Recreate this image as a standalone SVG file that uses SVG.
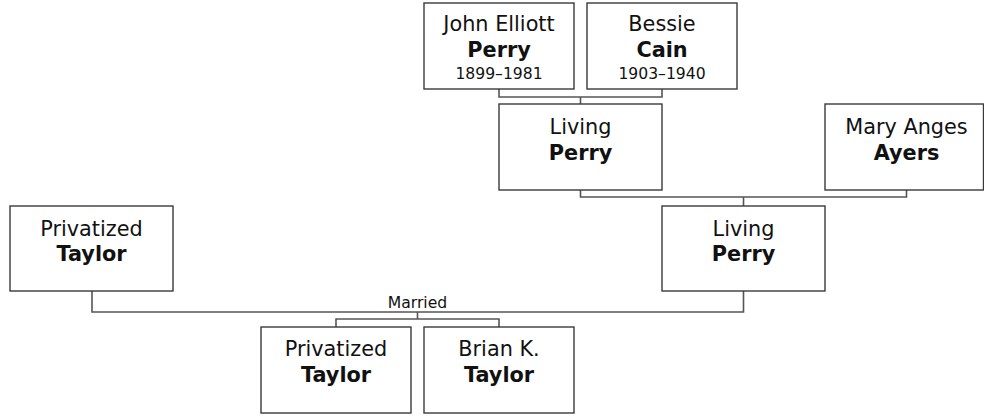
<svg xmlns="http://www.w3.org/2000/svg" width="984" height="416" viewBox="0 0 984 416">
<style>
.box{fill:#fff;stroke:#3a3a3a;stroke-width:1.4}
.t{font-family:"DejaVu Sans",Verdana,sans-serif;font-size:20.8px;fill:#111;text-anchor:middle}
.b{font-weight:bold}
.s{font-size:15.6px}
.c{fill:none;stroke:#555;stroke-width:1.6}
</style>
<rect width="984" height="416" fill="#fff"/>
<g id="connectors">
<path class="c" d="M499,89V97H662V89M580.5,97V104"/>
<path class="c" d="M580.5,190V197H906.5V190M743.5,197V206"/>
<path class="c" d="M743.5,291V312H92V291"/>
<path class="c" d="M417.5,312V319M336,327V319H499V327"/>
<text class="t s" x="417.5" y="308">Married</text>
</g>
<g id="john-elliott-perry">
<rect class="box" x="424" y="3" width="150" height="86"/>
<text class="t" x="499" y="31">John Elliott</text>
<text class="t b" x="499" y="56.5">Perry</text>
<text class="t s" x="499" y="79">1899–1981</text>
</g>
<g id="bessie-cain">
<rect class="box" x="587" y="3" width="150" height="86"/>
<text class="t" x="662" y="31">Bessie</text>
<text class="t b" x="662" y="56.5">Cain</text>
<text class="t s" x="662" y="79">1903–1940</text>
</g>
<g id="living-perry-1">
<rect class="box" x="499" y="104" width="163" height="86"/>
<text class="t" x="580.5" y="134">Living</text>
<text class="t b" x="580.5" y="159.5">Perry</text>
</g>
<g id="mary-anges-ayers">
<rect class="box" x="825" y="104" width="158.5" height="86"/>
<text class="t" x="906.5" y="134">Mary Anges</text>
<text class="t b" x="906.5" y="159.5">Ayers</text>
</g>
<g id="living-perry-2">
<rect class="box" x="662" y="206" width="163" height="85"/>
<text class="t" x="743.5" y="235.5">Living</text>
<text class="t b" x="743.5" y="261">Perry</text>
</g>
<g id="privatized-taylor-1">
<rect class="box" x="10" y="206" width="163" height="85"/>
<text class="t" x="91.5" y="235.5">Privatized</text>
<text class="t b" x="91.5" y="261">Taylor</text>
</g>
<g id="privatized-taylor-2">
<rect class="box" x="261" y="327" width="150" height="86"/>
<text class="t" x="336" y="356">Privatized</text>
<text class="t b" x="336" y="381.5">Taylor</text>
</g>
<g id="brian-k-taylor">
<rect class="box" x="424" y="327" width="150" height="86"/>
<text class="t" x="499" y="356">Brian K.</text>
<text class="t b" x="499" y="381.5">Taylor</text>
</g>
</svg>
